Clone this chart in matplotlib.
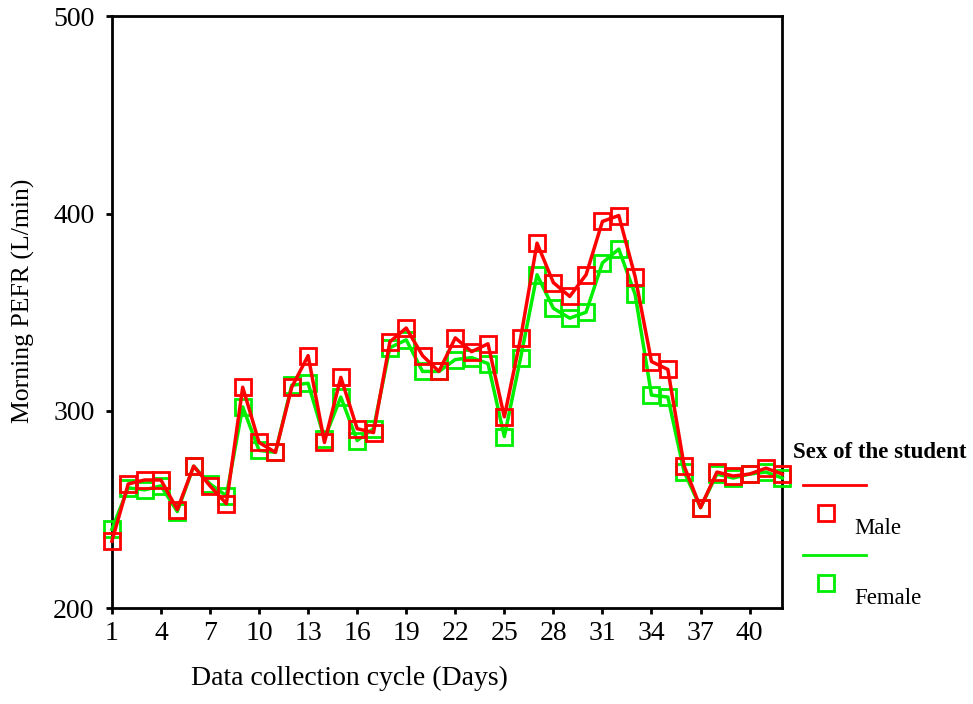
import numpy as np
import matplotlib
matplotlib.use("Agg")
import matplotlib.pyplot as plt
from matplotlib.lines import Line2D

# days of the data collection cycle
days = list(range(1, 43))

# morning PEFR means (L/min)
male = [234, 263, 265, 265, 250, 272, 262, 253, 312, 284,
        279, 312, 328, 284, 317, 291, 289, 335, 342, 328,
        320, 337, 330, 334, 297, 337, 385, 365, 358, 369,
        396, 399, 368, 325, 321, 272, 251, 269, 267, 268,
        271, 268]
female = [240, 261, 260, 262, 249, 272, 263, 257, 302, 280,
          279, 313, 314, 286, 307, 285, 291, 332, 336, 320,
          320, 326, 327, 324, 287, 327, 369, 352, 347, 350,
          375, 382, 359, 308, 307, 269, 251, 268, 266, 268,
          269, 266]

xticks = list(range(1, 41, 3))
yticks = [200, 300, 400, 500]

red = "#ff0000"
green = "#00ee00"

plt.rcParams['font.family'] = ['Liberation Serif', 'DejaVu Serif']

fig = plt.figure(figsize=(9.73, 7.04), dpi=100)
ax = fig.add_axes([0.115, 0.136, 0.689, 0.841])

ax.plot(days, female, color=green, lw=2.5, marker="s", ms=12,
        mfc="none", mec=green, mew=2, zorder=3, clip_on=False)
ax.plot(days, male, color=red, lw=2.5, marker="s", ms=12,
        mfc="none", mec=red, mew=2, zorder=4, clip_on=False)

ax.set_xlim(1, 42)
ax.set_ylim(200, 500)
ax.set_xticks(xticks)
ax.set_yticks(yticks)
ax.tick_params(labelsize=20, length=4.5, width=2, direction="out")
ax.tick_params(axis="x", pad=5)
ax.tick_params(axis="y", pad=8)
for s in ax.spines.values():
    s.set_linewidth(2)

# SPSS put the x title left of the axis centre
ax.set_xlabel("Data collection cycle (Days)", fontsize=20)
ax.xaxis.set_label_coords(0.355, -0.097)
ax.set_ylabel("Morning PEFR (L/min)", fontsize=18.5)
ax.yaxis.set_label_coords(-0.114, 0.52)

# legend drawn by hand, SPSS style
def fx(px):
    return px / 973.0

def fy(py):
    return 1 - py / 704.0

fig.text(fx(793), fy(452), "Sex of the student", fontsize=16.5,
         fontweight="bold", va="center", ha="left")
entries = [("Male", red, 485), ("Female", green, 555)]
for label, col, ly in entries:
    fig.add_artist(Line2D([fx(803), fx(866)], [fy(ly), fy(ly)],
                          color=col, lw=2, transform=fig.transFigure))
    fig.add_artist(Line2D([fx(826)], [fy(ly + 28)], marker="s", ms=11,
                          mfc="none", mec=col, mew=2,
                          transform=fig.transFigure))
    fig.text(fx(854), fy(ly + 44), label, fontsize=16.5, va="center", ha="left")

fig.savefig("out.png", dpi=100)
